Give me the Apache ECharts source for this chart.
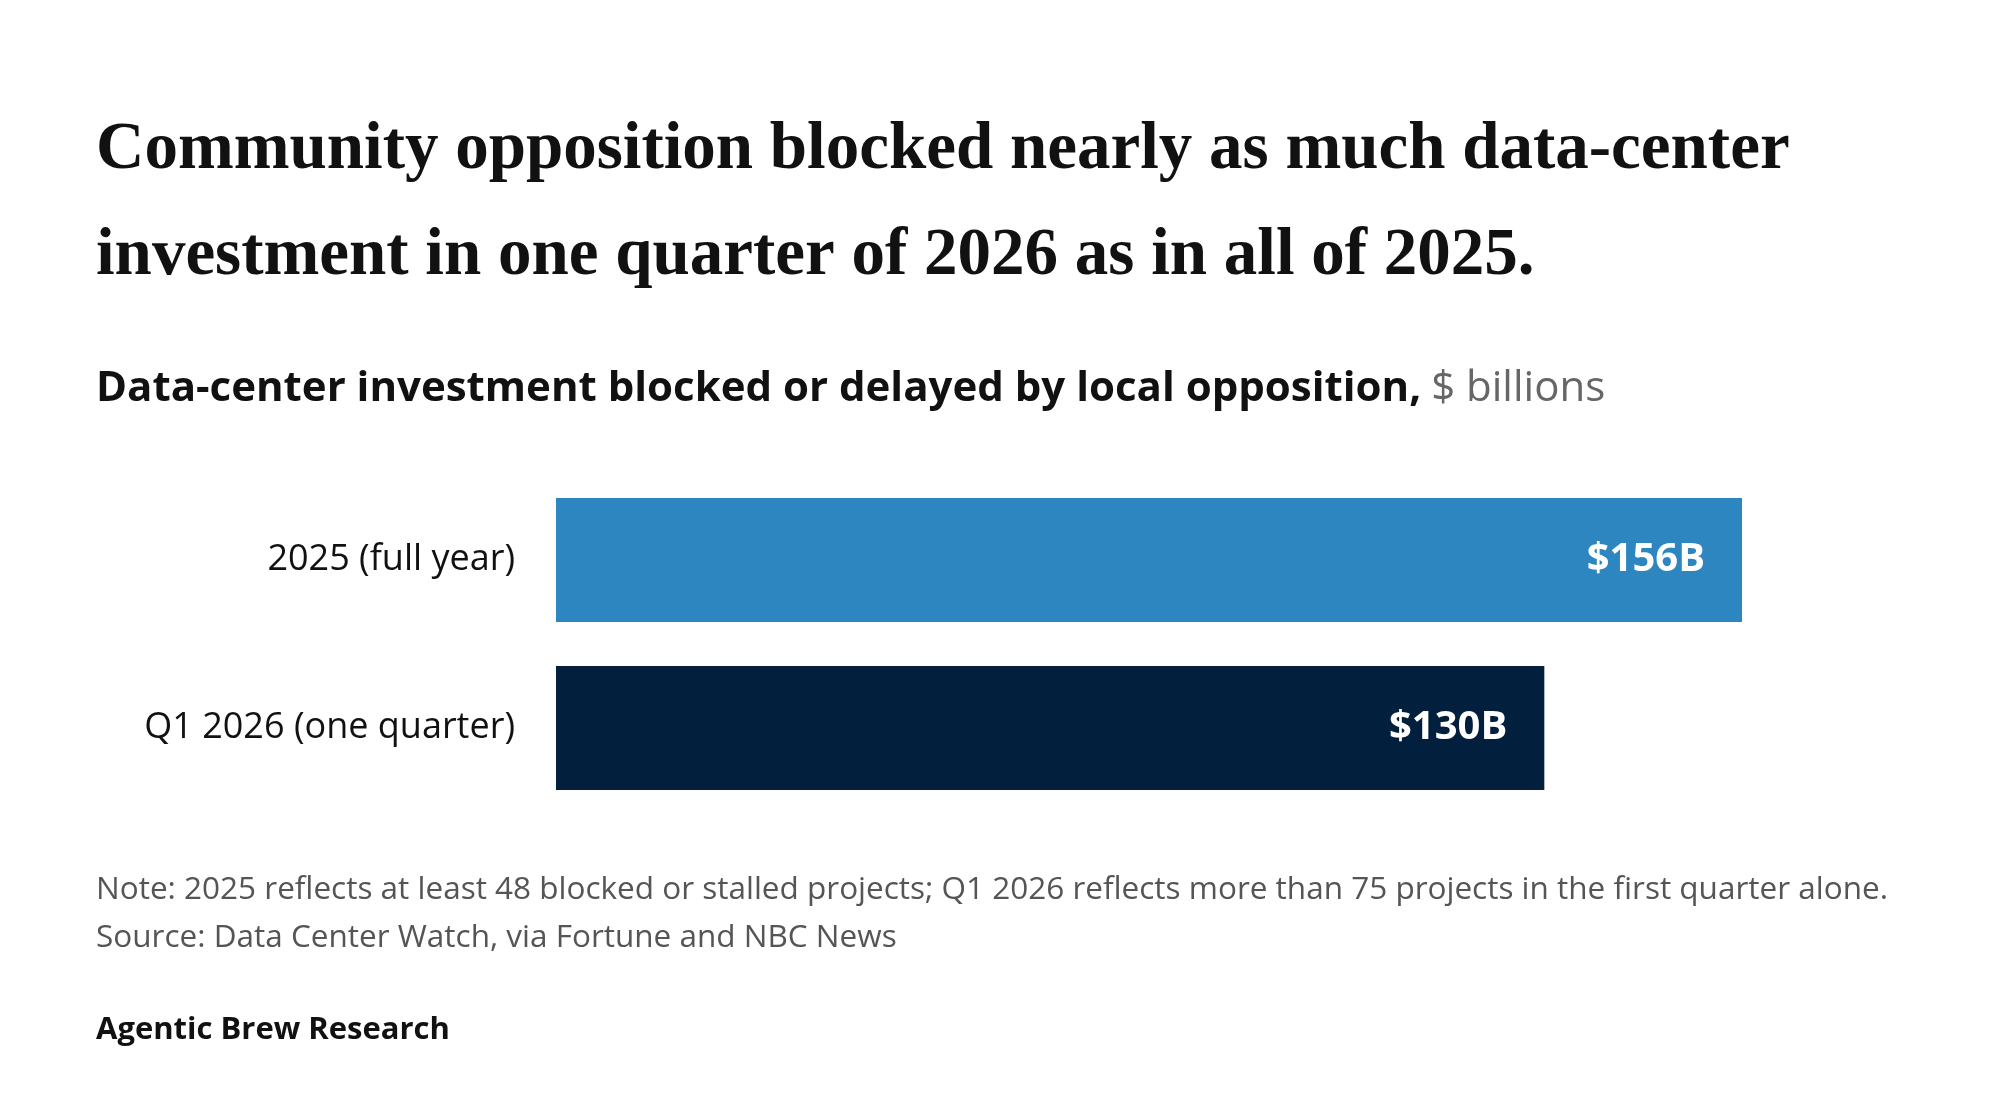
<!DOCTYPE html>
<html>
<head>
<meta charset="utf-8">
<script src="https://cdn.jsdelivr.net/npm/echarts@6/dist/echarts.min.js"></script>
<style>
  html, body { margin: 0; padding: 0; background: #fff; }
  #chart { width: 2000px; height: 1118px; }
</style>
</head>
<body>
<div id="chart"></div>
<script>
// data
const categories = ['2025 (full year)', 'Q1 2026 (one quarter)']
const values = [156, 130]
const barColors = ['#2E86C1', '#02203D']

const headline = 'Community opposition blocked nearly as much data-center\ninvestment in one quarter of 2026 as in all of 2025.'
const subtitle = 'Data-center investment blocked or delayed by local opposition,'
const unitText = '$ billions'
const noteText = 'Note: 2025 reflects at least 48 blocked or stalled projects; Q1 2026 reflects more than 75 projects in the first quarter alone.\nSource: Data Center Watch, via Fortune and NBC News'
const brand = 'Agentic Brew Research'

const sans = '"Open Sans", Lato, sans-serif'

const chart = echarts.init(document.getElementById('chart'))

const option = {
  backgroundColor: '#fff',
  title: [
    {
      text: headline,
      left: 96,
      top: 98,
      padding: 0,
      textStyle: {
        fontFamily: '"Liberation Serif", serif',
        fontWeight: 'bold',
        fontSize: 67,
        lineHeight: 106,
        color: '#111'
      }
    },
    {
      text: '{a|' + subtitle + '}  {b|' + unitText + '}',
      left: 96,
      top: 364,
      padding: 0,
      textStyle: {
        rich: {
          a: { fontFamily: sans, fontWeight: 'bold', fontSize: 42, lineHeight: 50, color: '#111' },
          b: { fontFamily: sans, fontWeight: 'normal', fontSize: 42, lineHeight: 50, color: '#666' }
        }
      }
    },
    {
      text: noteText,
      left: 96,
      top: 866,
      padding: 0,
      textStyle: {
        fontFamily: sans,
        fontWeight: 'normal',
        fontSize: 31.5,
        lineHeight: 48,
        color: '#555'
      }
    },
    {
      text: brand,
      left: 96,
      top: 1010,
      padding: 0,
      textStyle: {
        fontFamily: sans,
        fontWeight: 'bold',
        fontSize: 31,
        lineHeight: 40,
        color: '#111'
      }
    }
  ],
  grid: {
    left: 556,
    right: 258,
    top: 476,
    bottom: 306,
    containLabel: false
  },
  xAxis: {
    type: 'value',
    min: 0,
    max: 156,
    show: false
  },
  yAxis: {
    type: 'category',
    data: categories,
    inverse: true,
    axisLine: { show: false },
    axisTick: { show: false },
    splitLine: { show: false },
    axisLabel: {
      margin: 41,
      padding: [4, 0, 0, 0],
      fontFamily: sans,
      fontSize: 36,
      color: '#111'
    }
  },
  series: [
    {
      type: 'bar',
      barWidth: 124,
      data: values.map((v, i) => ({ value: v, itemStyle: { color: barColors[i] } })),
      label: {
        show: true,
        position: 'insideRight',
        distance: 37,
        padding: [4, 0, 0, 0],
        formatter: p => '$' + p.value + 'B',
        fontFamily: sans,
        fontWeight: 'bold',
        fontSize: 40,
        color: '#fff'
      },
      silent: true,
      animation: false
    }
  ]
}

chart.setOption(option)
window.addEventListener('resize', () => chart.resize())
</script>
</body>
</html>
